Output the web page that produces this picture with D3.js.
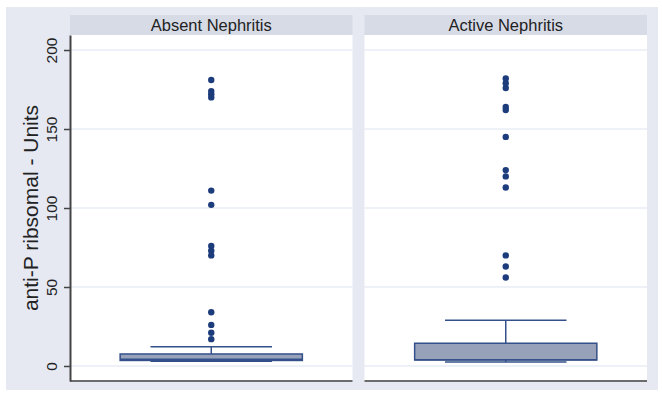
<!DOCTYPE html>
<html lang="en">
<head>
    <meta charset="UTF-8">
    <title>anti-P ribosomal</title>
    <style type="text/css">
        * {
            margin: 0;
            padding: 0;
        }
        body { background: white; }
        text { font-family: "Liberation Sans", Arial, sans-serif; }
    </style>
</head>
<body>
<div id="chart-area"></div>
<script src="https://cdn.jsdelivr.net/npm/d3@7"></script>
<script type="text/javascript">
    const categories = ['Absent Nephritis', 'Active Nephritis']
    const whiskerLow = [3.0, 2.5]
    const q1 = [3.5, 3.8]
    const median = [4.3, 4.0]
    const q3 = [7.6, 14.4]
    const whiskerHigh = [12.2, 29]
    const outliers = [
      [181, 174, 172, 170, 111, 102, 76, 73, 70, 34, 26, 21, 17],
      [182, 179, 176, 164, 162, 145, 124, 120, 113, 70, 63, 56]
    ]
    const yTicks = [0, 50, 100, 150, 200]

    const width = 662
    const height = 393
    const svg = d3.select('#chart-area').append('svg')
    .attr('width', width)
    .attr('height', height)
    .style('background-color', 'white')

    // outer grey frame
    svg.append('rect')
    .attr('x', 6).attr('y', 7)
    .attr('width', 652).attr('height', 383)
    .attr('fill', '#e6e9f2')

    const y = d3.scaleLinear()
    .domain([-9.5, 209.5])
    .range([381, 35])

    const x = d3.scaleBand()
    .domain(categories)
    .range([70, 647])
    .paddingInner(0.0407)

    const bw = x.bandwidth()

    categories.forEach((cat, i) => {
      const g = svg.append('g').attr('transform', `translate(${x(cat)},0)`)
      const cx = bw / 2

      // header strip
      g.append('rect')
      .attr('x', 0).attr('y', 15)
      .attr('width', bw).attr('height', 20)
      .attr('fill', '#d7dbe6')
      g.append('text')
      .attr('x', cx).attr('y', 30.5)
      .attr('text-anchor', 'middle')
      .attr('font-size', 16.5)
      .attr('fill', '#222')
      .text(cat)

      // plot area
      g.append('rect')
      .attr('x', 0).attr('y', 35)
      .attr('width', bw).attr('height', y(-9.5) - 35)
      .attr('fill', 'white')

      g.selectAll('line.grid').data(yTicks).enter().append('line')
      .attr('class', 'grid')
      .attr('x1', 0).attr('x2', bw)
      .attr('y1', d => y(d)).attr('y2', d => y(d))
      .attr('stroke', '#dde4f0')
      .attr('stroke-width', 1)

      // bottom axis line
      g.append('line')
      .attr('x1', 0).attr('x2', bw)
      .attr('y1', 381).attr('y2', 381)
      .attr('stroke', '#6b6b6b')
      .attr('stroke-width', 2)

      const boxW = bw * 0.645
      const capW = bw * 0.43
      const stroke = '#34508a'

      // whiskers
      g.append('line')
      .attr('x1', cx).attr('x2', cx)
      .attr('y1', y(whiskerHigh[i])).attr('y2', y(q3[i]))
      .attr('stroke', stroke).attr('stroke-width', 1.5)
      g.append('line')
      .attr('x1', cx).attr('x2', cx)
      .attr('y1', y(whiskerLow[i])).attr('y2', y(q1[i]))
      .attr('stroke', stroke).attr('stroke-width', 1.5)
      g.selectAll('line.cap').data([whiskerLow[i], whiskerHigh[i]]).enter().append('line')
      .attr('class', 'cap')
      .attr('x1', cx - capW / 2).attr('x2', cx + capW / 2)
      .attr('y1', d => y(d)).attr('y2', d => y(d))
      .attr('stroke', stroke).attr('stroke-width', 1.5)

      // box
      g.append('rect')
      .attr('x', cx - boxW / 2)
      .attr('y', y(q3[i]))
      .attr('width', boxW)
      .attr('height', y(q1[i]) - y(q3[i]))
      .attr('fill', '#97a2ba')
      .attr('stroke', stroke)
      .attr('stroke-width', 1.5)
      g.append('line')
      .attr('x1', cx - boxW / 2).attr('x2', cx + boxW / 2)
      .attr('y1', y(median[i])).attr('y2', y(median[i]))
      .attr('stroke', stroke).attr('stroke-width', 1.5)

      // outside values
      g.selectAll('circle').data(outliers[i]).enter().append('circle')
      .attr('cx', cx)
      .attr('cy', d => y(d))
      .attr('r', 3.2)
      .attr('fill', '#1d3c7c')
    })

    // y axis on first panel
    const yAxis = d3.axisLeft(y)
    .tickValues(yTicks)
    .tickSize(6)
    .tickSizeOuter(0)
    const ax = svg.append('g')
    .attr('transform', 'translate(70,0)')
    .call(yAxis)
    ax.select('.domain').attr('stroke', '#444').attr('stroke-width', 2)
    ax.selectAll('.tick line').attr('stroke', '#444').attr('stroke-width', 1.5)
    ax.selectAll('.tick text')
    .attr('font-size', 15.5)
    .attr('font-family', '"Liberation Sans", Arial, sans-serif')
    .attr('fill', '#222')
    .attr('x', 0).attr('dy', 0)
    .attr('text-anchor', 'middle')
    .attr('transform', 'translate(-13,0) rotate(-90)')

    svg.append('text')
    .attr('transform', `translate(38,${y(100)}) rotate(-90)`)
    .attr('text-anchor', 'middle')
    .attr('font-size', 21)
    .attr('fill', '#222')
    .text('anti-P ribsomal - Units')
</script>
</body>
</html>
